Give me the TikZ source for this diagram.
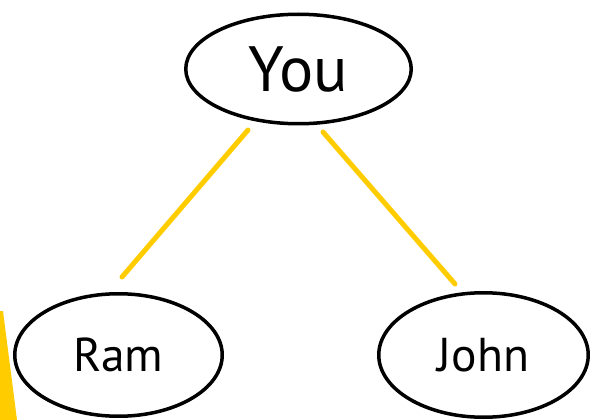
\documentclass[tikz,border=0pt]{standalone}
\usepackage{fontspec}
\setmainfont{PT Sans}
\usetikzlibrary{shapes.geometric}
\definecolor{gold}{HTML}{FFCC00}
\tikzset{
  person/.style={ellipse, draw=black, line width=3.5pt, inner sep=0pt, text depth=0pt},
  tie/.style={draw=gold, line width=5pt, line cap=round}
}
\begin{document}
\begin{tikzpicture}[x=1pt,y=-1pt]
\useasboundingbox (0,0) rectangle (590,420);
\fill[gold] (0,311) -- (3,311) -- (17,420) -- (0,420) -- cycle;
\node[person, minimum width=225.5pt, minimum height=109.5pt, text height=45pt, font=\fontsize{64}{70}\selectfont] (you) at (298.5,69) {You};
\node[person, minimum width=207.5pt, minimum height=122.5pt, text height=33pt, font=\fontsize{47.5}{52}\selectfont] (ram) at (118.5,355) {Ram};
\node[person, minimum width=209.5pt, minimum height=124.5pt, text height=33pt, font=\fontsize{47.5}{52}\selectfont] (john) at (483.5,355) {John};
\coordinate (a1) at (248,130);
\coordinate (a2) at (122,277);
\coordinate (b1) at (323,132);
\coordinate (b2) at (455,284);
\draw[tie] (a1) -- (a2);
\draw[tie] (b1) -- (b2);
\end{tikzpicture}
\end{document}
